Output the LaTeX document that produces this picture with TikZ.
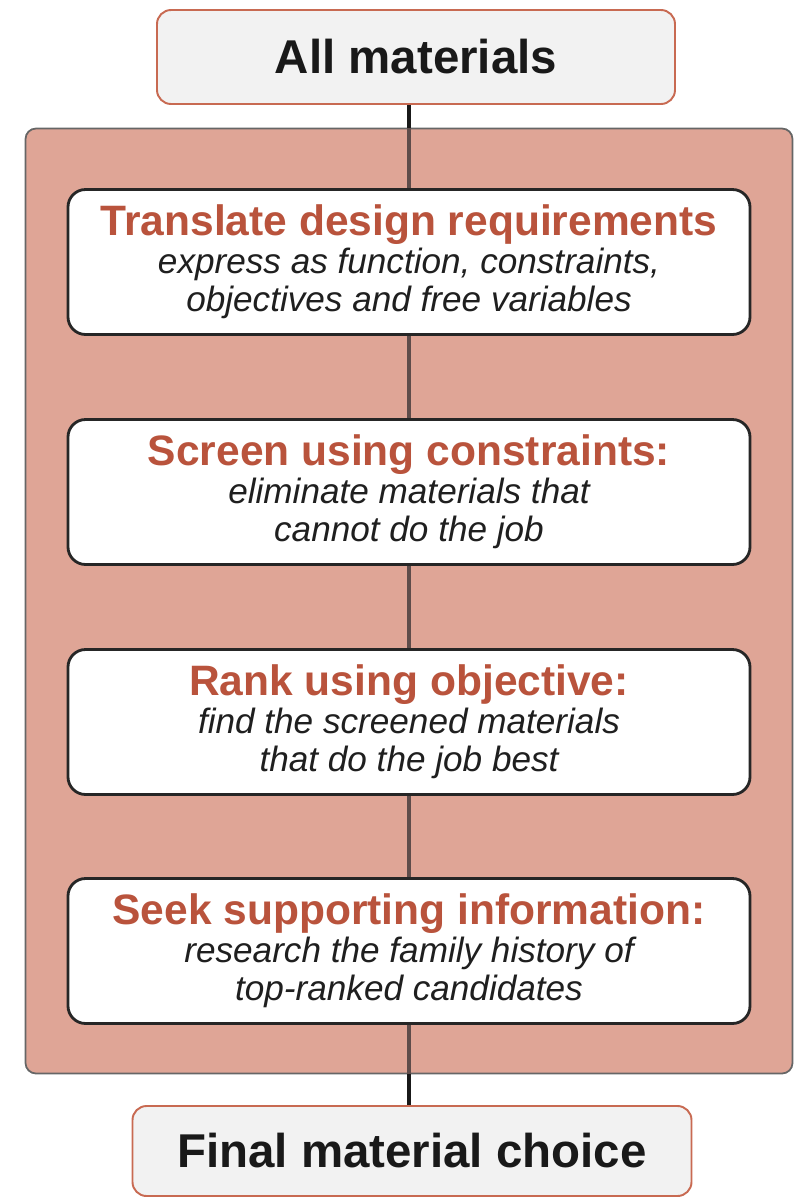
\documentclass[tikz,border=0pt]{standalone}
\usepackage{fontspec}
\setmainfont{Liberation Sans}

\definecolor{rust}{HTML}{B9533C}
\definecolor{salmon}{HTML}{DFA596}
\definecolor{paper}{HTML}{F2F2F2}
\definecolor{rustedge}{HTML}{C86A52}
\definecolor{stem}{HTML}{5E4C4A}

\begin{document}
\begin{tikzpicture}[x=0.2mm, y=-0.2mm,
    endbox/.style={draw=rustedge, line width=1.1pt, fill=paper, rounded corners=8pt,
        inner sep=0pt, font=\fontsize{27}{30}\selectfont\bfseries, text=black!90},
    stepbox/.style={draw=black!85, line width=1.6pt, fill=white, rounded corners=10pt,
        inner sep=0pt, minimum width=136.4mm, minimum height=29mm, align=center,
        font=\fontsize{20}{21.6}\selectfont\itshape, text=black!88},
    panelbox/.style={draw=black!60, line width=1pt, fill=salmon, rounded corners=6pt, inner sep=0pt},
    outerlink/.style={line width=2.6pt, black!90},
    innerlink/.style={line width=2.2pt, stem}]
    \useasboundingbox (0,0) rectangle (802,1199);

    % shaded panel behind the four steps
    \node[panelbox, minimum width=153.4mm, minimum height=189mm] (panel) at (409,601) {};

    % start and end
    \node[endbox, minimum width=103.6mm, minimum height=18.8mm] (all) at (416,57) {All materials};
    \node[endbox, minimum width=111.8mm, minimum height=18mm] (final) at (412,1151) {Final material choice};

    % the four steps
    \node[stepbox] (translate) at (409,262)
        {{\fontsize{24.2}{21.6}\selectfont\bfseries\upshape\color{rust}Translate design requirements}\\
         express as function, constraints,\\ objectives and free variables};
    \node[stepbox] (screen) at (409,492)
        {{\fontsize{24.2}{21.6}\selectfont\bfseries\upshape\color{rust}Screen using constraints:}\\
         eliminate materials that\\ cannot do the job};
    \node[stepbox] (rank) at (409,722)
        {{\fontsize{24.2}{21.6}\selectfont\bfseries\upshape\color{rust}Rank using objective:}\\
         find the screened materials\\ that do the job best};
    \node[stepbox] (seek) at (409,951)
        {{\fontsize{24.2}{21.6}\selectfont\bfseries\upshape\color{rust}Seek supporting information:}\\
         research the family history of\\ top-ranked candidates};

    % stem running through the chain
    \draw[outerlink] (panel.north |- all.south) -- (panel.north);
    \draw[innerlink] (panel.north) -- (translate);
    \draw[innerlink] (translate) -- (screen);
    \draw[innerlink] (screen) -- (rank);
    \draw[innerlink] (rank) -- (seek);
    \draw[innerlink] (seek) -- (panel.south);
    \draw[outerlink] (panel.south) -- (panel.south |- final.north);
\end{tikzpicture}
\end{document}
